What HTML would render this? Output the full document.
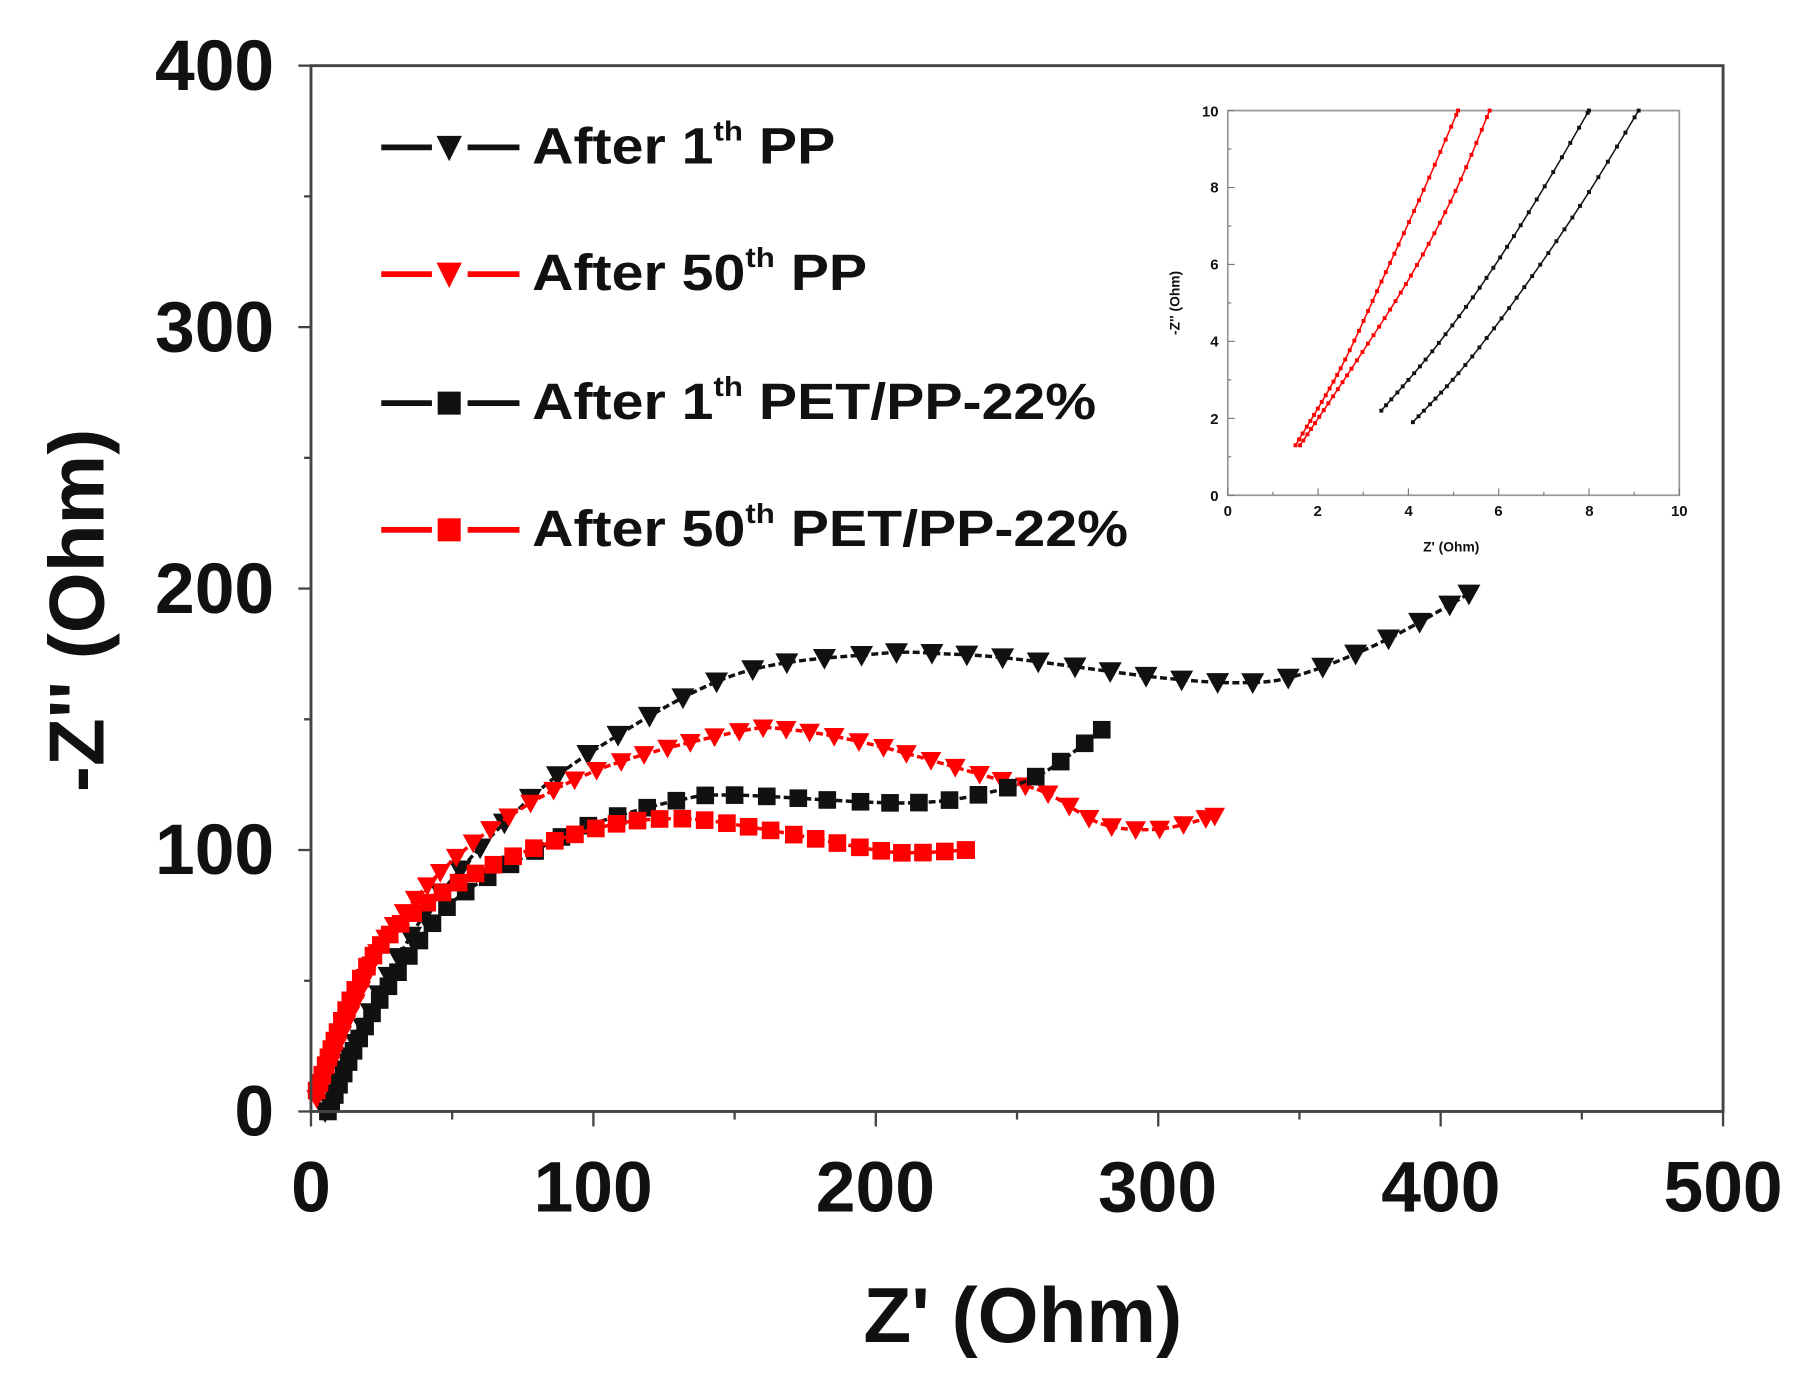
<!DOCTYPE html>
<html><head><meta charset="utf-8"><style>
html,body{margin:0;padding:0;background:#fff;}
svg{display:block;}
text{font-family:"Liberation Sans",sans-serif;font-weight:bold;fill:#111;}
</style></head><body>
<svg id="s" width="1806" height="1381" viewBox="0 0 1568 1199" preserveAspectRatio="none" xmlns="http://www.w3.org/2000/svg">
<rect width="1568" height="1199" fill="#fff"/>
<g id="g"></g>
<rect x="270" y="57" width="1226" height="908" fill="none" stroke="#444" stroke-width="2.5"/>
<g font-size="62" text-anchor="end">
<text x="238" y="78">400</text><text x="238" y="305">300</text><text x="238" y="532">200</text><text x="238" y="759">100</text><text x="238" y="986">0</text>
</g>
<g font-size="62" text-anchor="middle">
<text x="270" y="1052">0</text><text x="515" y="1052">100</text><text x="760" y="1052">200</text><text x="1005" y="1052">300</text><text x="1251" y="1052">400</text><text x="1496" y="1052">500</text>
</g>
<text x="888" y="1165" font-size="68" text-anchor="middle">Z' (Ohm)</text>
<text transform="translate(90,530) rotate(-90)" font-size="68" text-anchor="middle">-Z'' (Ohm)</text>
<!-- legend -->
<g font-size="44">
<line x1="331" y1="128" x2="375" y2="128" stroke="#111" stroke-width="5"/><line x1="406" y1="128" x2="451" y2="128" stroke="#111" stroke-width="5"/><path d="M379 118 L401 118 L390 140 Z" fill="#111"/>
<line x1="331" y1="238" x2="375" y2="238" stroke="#f00" stroke-width="5"/><line x1="406" y1="238" x2="451" y2="238" stroke="#f00" stroke-width="5"/><path d="M379 228 L401 228 L390 250 Z" fill="#f00"/>
<line x1="331" y1="350" x2="375" y2="350" stroke="#111" stroke-width="5"/><line x1="406" y1="350" x2="451" y2="350" stroke="#111" stroke-width="5"/><rect x="380" y="340" width="20" height="20" fill="#111"/>
<line x1="331" y1="460" x2="375" y2="460" stroke="#f00" stroke-width="5"/><line x1="406" y1="460" x2="451" y2="460" stroke="#f00" stroke-width="5"/><rect x="380" y="450" width="20" height="20" fill="#f00"/>
<g transform="translate(462,0) scale(1.13,1)">
<text x="0" y="142">After 1<tspan font-size="24" dy="-20">th</tspan><tspan dy="20"> PP</tspan></text>
<text x="0" y="252">After 50<tspan font-size="24" dy="-20">th</tspan><tspan dy="20"> PP</tspan></text>
<text x="0" y="364">After 1<tspan font-size="24" dy="-20">th</tspan><tspan dy="20"> PET/PP-22%</tspan></text>
<text x="0" y="474">After 50<tspan font-size="24" dy="-20">th</tspan><tspan dy="20"> PET/PP-22%</tspan></text>
</g>
</g>
<!-- inset -->
<rect x="1066" y="96" width="392" height="334" fill="#fff" stroke="#999" stroke-width="1.5"/>
<g id="ig"></g>
<g font-size="13" fill="#333" text-anchor="end">
<text x="1058" y="435">0</text><text x="1058" y="368">2</text><text x="1058" y="301">4</text><text x="1058" y="234">6</text><text x="1058" y="167">8</text><text x="1058" y="101">10</text>
</g>
<g font-size="13" text-anchor="middle">
<text x="1066" y="448">0</text><text x="1144" y="448">2</text><text x="1223" y="448">4</text><text x="1301" y="448">6</text><text x="1380" y="448">8</text><text x="1458" y="448">10</text>
</g>
<text x="1260" y="479" font-size="12" text-anchor="middle">Z' (Ohm)</text>
<text transform="translate(1024,263) rotate(-90)" font-size="12" text-anchor="middle">-Z'' (Ohm)</text>
</svg>
<script>
var NS="http://www.w3.org/2000/svg",g=document.getElementById('g'),ig=document.getElementById('ig');
function el(p,t,a){var e=document.createElementNS(NS,t);for(var k in a)e.setAttribute(k,a[k]);p.appendChild(e);return e;}
for(var v=0;v<=500;v+=50){var x=270+v*2.452;el(g,'line',{x1:x,y1:965,x2:x,y2:v%100?972:978,stroke:'#444','stroke-width':2});}
for(var v=0;v<=400;v+=50){var y=965-v*2.27;el(g,'line',{x1:270,y1:y,x2:v%100?264:259,y2:y,stroke:'#444','stroke-width':2});}
function X(v){return 270+v*2.452;}function Y(v){return 965-v*2.27;}
function cr(pts,n){var out=[];for(var i=0;i<pts.length-1;i++){var p0=pts[Math.max(0,i-1)],p1=pts[i],p2=pts[i+1],p3=pts[Math.min(pts.length-1,i+2)];for(var j=0;j<n;j++){var t=j/n,t2=t*t,t3=t2*t;out.push([0,1].map(function(k){return 0.5*((2*p1[k])+(-p0[k]+p2[k])*t+(2*p0[k]-5*p1[k]+4*p2[k]-p3[k])*t2+(-p0[k]+3*p1[k]-3*p2[k]+p3[k])*t3);}));}}out.push(pts[pts.length-1]);return out;}
function series(data,col,tri,fx,fy,par,base,grow,ms,lw){
 var pts=data.map(function(d){return [fx(d[0]),fy(d[1])];});var c=cr(pts,40);
 el(par,'polyline',{points:c.map(function(p){return p.join(',')}).join(' '),fill:'none',stroke:col,'stroke-width':lw,'stroke-dasharray':lw>2?'6 3':''});
 var L=0,next=0;
 for(var i=0;i<c.length;i++){if(i>0){L+=Math.hypot(c[i][0]-c[i-1][0],c[i][1]-c[i-1][1]);}
  if(L>=next||i==c.length-1){var x=c[i][0],y=c[i][1];
   if(tri)el(par,'path',{d:'M'+(x-ms)+' '+(y-ms*0.8)+'L'+(x+ms)+' '+(y-ms*0.8)+'L'+x+' '+(y+ms)+'Z',fill:col});
   else el(par,'rect',{x:x-ms*0.85,y:y-ms*0.85,width:ms*1.7,height:ms*1.7,fill:col});
   next=L+base+grow*Math.min(1,L/300);}}
}
series([[5,0],[20,35],[40,75],[70,112],[100,138],[150,167],[200,175],[225,175],[250,173],[300,166],[330,164],[350,167],[380,180],[410,198]],'#111',1,X,Y,g,8,22,10,3);
series([[2,5],[15,40],[30,72],[60,105],[100,130],[150,145],[170,146],[200,140],[240,128],[260,122],[280,110],[300,108],[320,113]],'#f00',1,X,Y,g,6,14,9,3);
series([[6,0],[18,30],[30,52],[50,80],[80,100],[100,110],[130,119],[150,121],[210,118],[240,122],[260,130],[280,146]],'#111',0,X,Y,g,7,18,9,3);
series([[2,8],[15,45],[30,70],[60,92],[100,108],[130,112],[160,108],[200,100],[215,99],[232,100]],'#f00',0,X,Y,g,6,12,9,3);
function IX(v){return 1066+v*39.2;}function IY(v){return 430-v*33.4;}
for(var v=0;v<=10;v+=1){el(ig,'line',{x1:IX(v),y1:430,x2:IX(v),y2:v%2?427:424,stroke:'#777','stroke-width':1});el(ig,'line',{x1:1066,y1:IY(v),x2:v%2?1069:1072,y2:IY(v),stroke:'#777','stroke-width':1});}
series([[1.5,1.3],[2.5,3.3],[3.5,5.8],[4.4,8.1],[5.1,10]],'#f00',0,IX,IY,ig,5,6,2,1.3);
series([[1.6,1.3],[2.8,3.4],[4,5.6],[5,7.8],[5.8,10]],'#f00',0,IX,IY,ig,5,6,2,1.3);
series([[3.4,2.2],[4.5,3.7],[5.7,5.6],[6.9,7.8],[8,10]],'#111',0,IX,IY,ig,6,8,2,1.3);
series([[4.1,1.9],[5.2,3.3],[6.5,5.3],[7.9,7.7],[9.1,10]],'#111',0,IX,IY,ig,6,8,2,1.3);
</script>
</body></html>
